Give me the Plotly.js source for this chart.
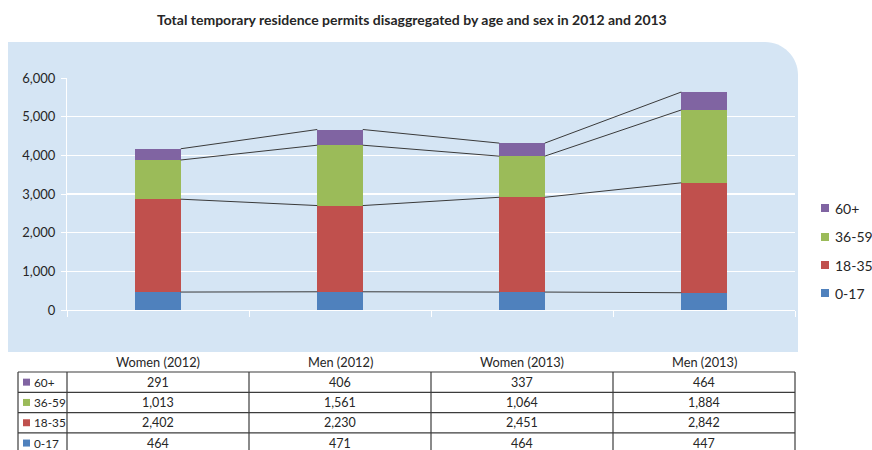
<!DOCTYPE html>
<html><head><meta charset="utf-8">
<script src="https://cdn.plot.ly/plotly-3.0.1.min.js"></script>
<style>body{margin:0;background:#fff}#chart{width:872px;height:450px}</style>
</head><body><div id="chart"></div>
<script>
const categories = ['Women (2012)', 'Men (2012)', 'Women (2013)', 'Men (2013)'];
const ageGroups = ['0-17', '18-35', '36-59', '60+'];
const age0to17 = [464, 471, 464, 447];
const age18to35 = [2402, 2230, 2451, 2842];
const age36to59 = [1013, 1561, 1064, 1884];
const age60plus = [291, 406, 337, 464];
const yTickVals = [0, 1000, 2000, 3000, 4000, 5000, 6000];
const titleText = 'Total temporary residence permits disaggregated by age and sex in 2012 and 2013';

const seriesValues = [age0to17, age18to35, age36to59, age60plus];
const seriesColors = ['#4f81bd', '#c0504d', '#9bbb59', '#8064a2'];

const W = 872, H = 450;
const X = p => p / W, Y = p => 1 - p / H;
const FONT = 'Lato, "Open Sans", "DejaVu Sans", sans-serif';
const TXT = '#262626';
const BARW = 0.25;

const plotL = 67, plotR = 795, plotT = 78, plotB = 310;
const xs = categories.map((c, i) => i);

const traces = [];
seriesValues.forEach((vals, k) => {
  traces.push({
    type: 'bar', x: xs, y: vals, name: ageGroups[k], width: BARW,
    marker: { color: seriesColors[k], line: { width: 0 } },
    showlegend: false, hovertemplate: ageGroups[k] + ': %{y:,}<extra></extra>'
  });
});
// series lines connecting stacked levels
let cum = categories.map(() => 0);
seriesValues.forEach((vals) => {
  cum = cum.map((c, i) => c + vals[i]);
  const lx = [], ly = [];
  for (let i = 0; i < categories.length - 1; i++) {
    lx.push(i + BARW / 2, i + 1 - BARW / 2, null);
    ly.push(cum[i], cum[i + 1], null);
  }
  traces.push({ type: 'scatter', mode: 'lines', x: lx, y: ly, line: { color: '#3a3a3a', width: 1 },
    showlegend: false, hoverinfo: 'skip', connectgaps: false });
});

const shapes = [];
const annotations = [];

// panel with rounded top-right corner
const pL = 8, pT = 42, pR = 798, pB = 352, r = 33;
shapes.push({
  type: 'path', xref: 'paper', yref: 'paper', layer: 'below',
  path: `M ${X(pL)},${Y(pT)} L ${X(pR - r)},${Y(pT)} C ${X(pR - r * 0.45)},${Y(pT)} ${X(pR)},${Y(pT + r * 0.45)} ${X(pR)},${Y(pT + r)} L ${X(pR)},${Y(pB)} L ${X(pL)},${Y(pB)} Z`,
  fillcolor: '#d5e5f4', line: { width: 0 }
});

// title
annotations.push({ xref: 'paper', yref: 'paper', x: X(412), y: Y(20), text: '<b>' + titleText + '</b>',
  showarrow: false, font: { family: FONT, size: 14, color: TXT }, xanchor: 'center', yanchor: 'middle' });

// legend (reversed order)
const legY = [293, 265, 237, 208];
ageGroups.forEach((g, k) => {
  const cy = legY[k];
  shapes.push({ type: 'rect', xref: 'paper', yref: 'paper', x0: X(821), x1: X(829), y0: Y(cy - 4), y1: Y(cy + 4),
    fillcolor: seriesColors[k], line: { width: 0 } });
  annotations.push({ xref: 'paper', yref: 'paper', x: X(833), y: Y(cy), text: g, showarrow: false,
    xanchor: 'left', yanchor: 'middle', font: { family: FONT, size: 14, color: TXT } });
});

// data table
const colW = (plotR - plotL) / categories.length;
const tabL = 18, rowTop = 372, rowH = 20.3;
const nRows = ageGroups.length;
const tabB = rowTop + rowH * nRows;
const lineStyle = { color: '#3c3c3c', width: 1.2 };
categories.forEach((c, i) => {
  annotations.push({ xref: 'paper', yref: 'paper', x: X(plotL + colW * (i + 0.5)), y: Y(362), text: c,
    showarrow: false, xanchor: 'center', yanchor: 'middle', font: { family: FONT, size: 12.8, color: TXT } });
});
for (let rr = 0; rr <= nRows; rr++) {
  const yy = rowTop + rowH * rr;
  shapes.push({ type: 'line', xref: 'paper', yref: 'paper', x0: X(tabL), x1: X(plotR), y0: Y(yy), y1: Y(yy), line: lineStyle });
}
const vLines = [tabL].concat(categories.map((c, i) => plotL + colW * i), [plotR]);
vLines.forEach(vx => {
  shapes.push({ type: 'line', xref: 'paper', yref: 'paper', x0: X(vx), x1: X(vx), y0: Y(rowTop), y1: Y(tabB), line: lineStyle });
});
for (let rr = 0; rr < nRows; rr++) {
  const k = nRows - 1 - rr;
  const cy = rowTop + rowH * (rr + 0.5);
  shapes.push({ type: 'rect', xref: 'paper', yref: 'paper', x0: X(23), x1: X(30), y0: Y(cy - 3.5), y1: Y(cy + 3.5),
    fillcolor: seriesColors[k], line: { width: 0 } });
  annotations.push({ xref: 'paper', yref: 'paper', x: X(32), y: Y(cy), text: ageGroups[k], showarrow: false,
    xanchor: 'left', yanchor: 'middle', font: { family: FONT, size: 11.8, color: TXT } });
  seriesValues[k].forEach((v, i) => {
    annotations.push({ xref: 'paper', yref: 'paper', x: X(plotL + colW * (i + 0.5)), y: Y(cy), text: v.toLocaleString('en-US'),
      showarrow: false, xanchor: 'center', yanchor: 'middle', font: { family: FONT, size: 12.5, color: TXT } });
  });
}

const layout = {
  width: W, height: H,
  margin: { l: 0, r: 0, t: 0, b: 0 },
  paper_bgcolor: '#ffffff', plot_bgcolor: 'rgba(0,0,0,0)',
  barmode: 'stack', showlegend: false,
  font: { family: FONT, color: TXT },
  xaxis: {
    domain: [X(plotL), X(plotR)], range: [-0.5, categories.length - 0.5],
    tickvals: categories.map((c, i) => i - 0.5).concat([categories.length - 0.5]),
    ticktext: categories.map(() => '').concat(['']),
    showgrid: false, zeroline: false, showline: true, linecolor: '#ffffff', linewidth: 1,
    ticks: 'outside', ticklen: 6, tickcolor: '#ffffff', tickwidth: 1, fixedrange: true
  },
  yaxis: {
    domain: [Y(plotB), Y(plotT)], range: [0, 6000],
    tickvals: yTickVals, tickformat: ',d',
    showgrid: true, gridcolor: '#ffffff', gridwidth: 1.3, zeroline: false,
    showline: true, linecolor: '#ffffff', linewidth: 1,
    ticks: 'outside', ticklen: 5, tickcolor: '#ffffff', tickwidth: 1,
    ticklabelstandoff: 3,
    tickfont: { family: FONT, size: 13, color: TXT }, fixedrange: true
  },
  shapes: shapes, annotations: annotations
};

Plotly.newPlot('chart', traces, layout, { displayModeBar: false, staticPlot: true });
</script>
</body></html>
